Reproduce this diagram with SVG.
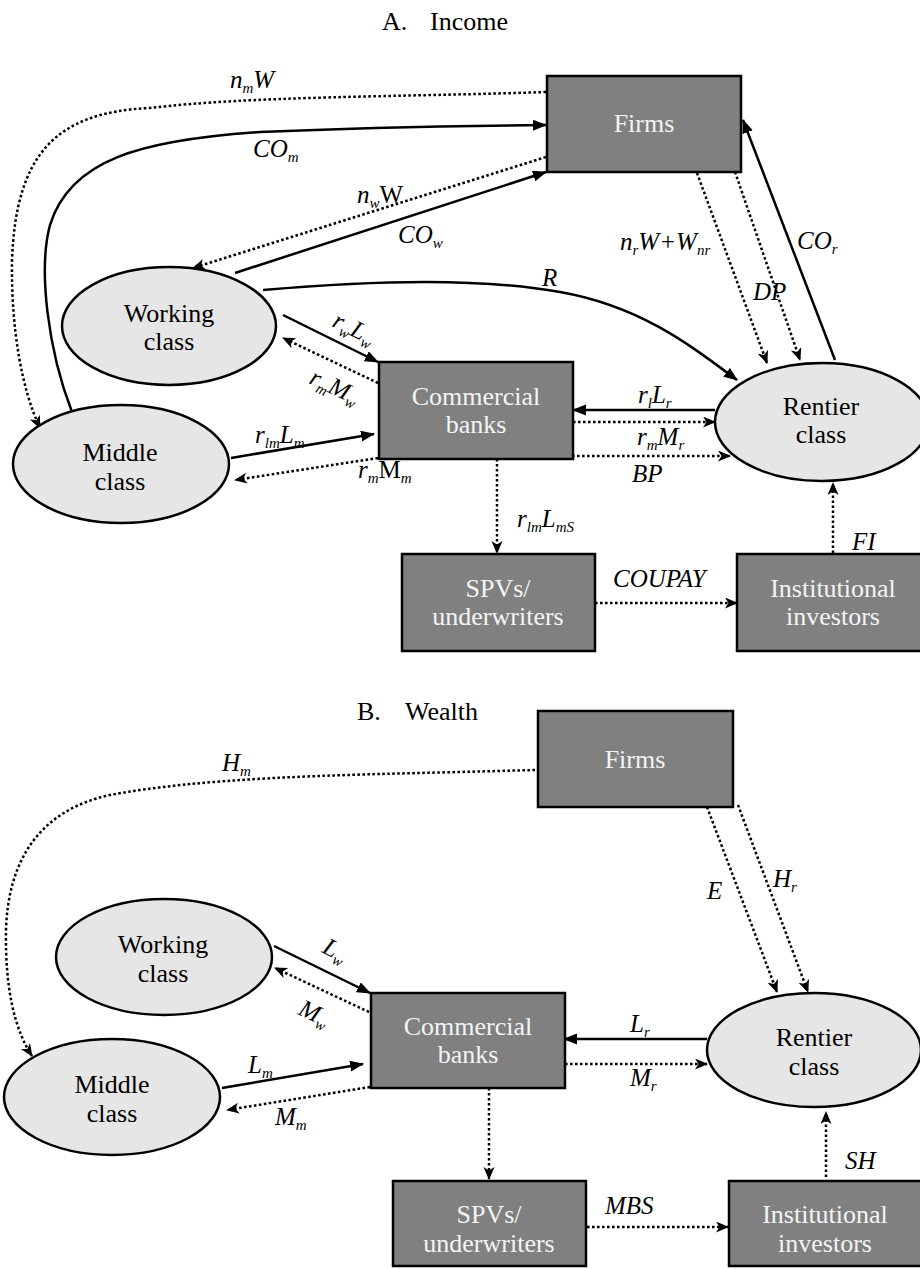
<svg xmlns="http://www.w3.org/2000/svg" width="920" height="1269" viewBox="0 0 920 1269">
<defs>
<style>
.box{fill:#808080;stroke:#000;stroke-width:2.5}
.ell{fill:#e6e6e6;stroke:#000;stroke-width:2.5}
.bt{font-family:"Liberation Serif","Times New Roman",serif;font-size:26px;fill:#f4f4f4;text-anchor:middle}
.et{font-family:"Liberation Serif","Times New Roman",serif;font-size:26px;fill:#000;text-anchor:middle}
.title{font-family:"Liberation Serif","Times New Roman",serif;font-size:26px;fill:#000}
.lb{font-family:"Liberation Serif","Times New Roman",serif;font-size:25px;font-style:italic;fill:#000}
.s{font-size:15px}
.up{font-style:normal}
.sol{fill:none;stroke:#000;stroke-width:2.5;marker-end:url(#tri)}
.dot{fill:none;stroke:#000;stroke-width:2.5;stroke-dasharray:2.6 2.4;marker-end:url(#stl)}
</style>
<marker id="tri" markerUnits="userSpaceOnUse" markerWidth="16" markerHeight="12" refX="13" refY="5.5" orient="auto">
<path d="M0,0 L14,5.5 L0,11 z" fill="#000"/>
</marker>
<marker id="stl" markerUnits="userSpaceOnUse" markerWidth="16" markerHeight="12" refX="12" refY="5.5" orient="auto">
<path d="M0,0 L13,5.5 L0,11 L3.5,5.5 z" fill="#000"/>
</marker>
</defs>
<rect width="920" height="1269" fill="#fff"/>

<text class="title" x="382" y="30">A.<tspan x="430">Income</tspan></text>
<text class="title" x="357" y="720">B.<tspan x="405">Wealth</tspan></text>

<g id="connectors">
<!-- Part A -->
<path class="dot" d="M546,92 C 400,97 250,96 150,108 C 55,112 16,155 12,260 C 11,330 22,390 40,428"/>
<path class="sol" d="M72,412 C 48,350 38,270 50,225 C 70,160 140,140 260,132 C 350,128 450,126 546,125"/>
<path class="dot" d="M546,157 L193,268"/>
<path class="sol" d="M235,273 L546,172"/>
<path class="sol" d="M263,290 C 380,280 480,278 560,292 C 640,306 690,345 737,380"/>
<path class="sol" d="M283,315 L378,362"/>
<path class="dot" d="M378,383 L283,338"/>
<path class="sol" d="M231,458 L374,434"/>
<path class="dot" d="M378,458 L235,480"/>
<path class="sol" d="M715,410 L573,410"/>
<path class="dot" d="M573,422 L715,422"/>
<path class="dot" d="M567,456 L730,456"/>
<path class="dot" d="M697,173 L767,363"/>
<path class="dot" d="M735,172 L800,360"/>
<path class="sol" d="M835,360 L743,120"/>
<path class="dot" d="M497,459 L497,553"/>
<path class="dot" d="M595,603 L737,603"/>
<path class="dot" d="M833,553 L833,483"/>
<!-- Part B -->
<path class="dot" d="M535,770 L460,772 C 330,775 200,778 110,795 C 40,810 8,860 6,930 C 5,990 15,1030 32,1056"/>
<path class="dot" d="M707,807 L777,992"/>
<path class="dot" d="M738,805 L808,992"/>
<path class="sol" d="M274,946 L370,993"/>
<path class="dot" d="M369,1012 L275,968"/>
<path class="sol" d="M222,1088 L363,1064"/>
<path class="dot" d="M370,1087 L227,1110"/>
<path class="sol" d="M707,1039 L564,1039"/>
<path class="dot" d="M565,1064 L707,1064"/>
<path class="dot" d="M489,1088 L489,1179"/>
<path class="dot" d="M587,1227 L728,1227"/>
<path class="dot" d="M826,1177 L826,1112"/>
</g>

<g id="labels">
<text class="lb" x="230" y="88">n<tspan class="s" dy="5">m</tspan><tspan dy="-5">W</tspan></text>
<text class="lb" x="253" y="157">CO<tspan class="s" dy="5">m</tspan></text>
<text class="lb" x="357" y="203">n<tspan class="s" dy="5">w</tspan><tspan class="up" dy="-5">W</tspan></text>
<text class="lb" x="398" y="243">CO<tspan class="s" dy="5">w</tspan></text>
<text class="lb" x="620" y="250">n<tspan class="s" dy="5">r</tspan><tspan dy="-5">W+W</tspan><tspan class="s" dy="5">nr</tspan></text>
<text class="lb" x="753" y="300">DP</text>
<text class="lb" x="797" y="249">CO<tspan class="s" dy="5">r</tspan></text>
<text class="lb" x="542" y="286">R</text>
<text class="lb" transform="translate(331,326) rotate(26)">r<tspan class="s" dy="5">w</tspan><tspan dy="-5">L</tspan><tspan class="s" dy="5">w</tspan></text>
<text class="lb" transform="translate(308,383) rotate(25)">r<tspan class="s" dy="5">m</tspan><tspan dy="-5">M</tspan><tspan class="s" dy="5">w</tspan></text>
<text class="lb" x="255" y="443">r<tspan class="s" dy="5">lm</tspan><tspan dy="-5">L</tspan><tspan class="s" dy="5">m</tspan></text>
<text class="lb" x="358" y="478">r<tspan class="s" dy="5">m</tspan><tspan class="up" dy="-5">M</tspan><tspan class="s" dy="5">m</tspan></text>
<text class="lb" x="638" y="403">r<tspan class="s" dy="5">l</tspan><tspan dy="-5">L</tspan><tspan class="s" dy="5">r</tspan></text>
<text class="lb" x="637" y="445">r<tspan class="s" dy="5">m</tspan><tspan dy="-5">M</tspan><tspan class="s" dy="5">r</tspan></text>
<text class="lb" x="632" y="482">BP</text>
<text class="lb" x="517" y="527">r<tspan class="s" dy="5">lm</tspan><tspan dy="-5">L</tspan><tspan class="s" dy="5">mS</tspan></text>
<text class="lb" x="613" y="587">COUPAY</text>
<text class="lb" x="852" y="550">FI</text>
<text class="lb" x="222" y="771">H<tspan class="s" dy="5">m</tspan></text>
<text class="lb" x="707" y="899">E</text>
<text class="lb" x="773" y="887">H<tspan class="s" dy="5">r</tspan></text>
<text class="lb" transform="translate(321,952) rotate(27)">L<tspan class="s" dy="5">w</tspan></text>
<text class="lb" transform="translate(297,1014) rotate(25)">M<tspan class="s" dy="5">w</tspan></text>
<text class="lb" x="248" y="1073">L<tspan class="s" dy="5">m</tspan></text>
<text class="lb" x="275" y="1125">M<tspan class="s" dy="5">m</tspan></text>
<text class="lb" x="630" y="1032">L<tspan class="s" dy="5">r</tspan></text>
<text class="lb" x="630" y="1086">M<tspan class="s" dy="5">r</tspan></text>
<text class="lb" x="605" y="1214">MBS</text>
<text class="lb" x="845" y="1169">SH</text>
</g>

<g id="firmsA"><rect class="box" x="547" y="76" width="194" height="96"/><text class="bt" x="644" y="132">Firms</text></g>
<g id="workingA"><ellipse class="ell" cx="169" cy="326" rx="107" ry="59"/><text class="et" x="169" y="322">Working</text><text class="et" x="169" y="350">class</text></g>
<g id="middleA"><ellipse class="ell" cx="121" cy="464" rx="108" ry="59"/><text class="et" x="120" y="461">Middle</text><text class="et" x="120" y="490">class</text></g>
<g id="banksA"><rect class="box" x="379" y="362" width="194" height="97"/><text class="bt" x="476" y="405">Commercial</text><text class="bt" x="476" y="433">banks</text></g>
<g id="rentierA"><ellipse class="ell" cx="822" cy="422" rx="107" ry="59"/><text class="et" x="821" y="415">Rentier</text><text class="et" x="821" y="443">class</text></g>
<g id="spvA"><rect class="box" x="402" y="554" width="193" height="97"/><text class="bt" x="498" y="597">SPVs/</text><text class="bt" x="498" y="625">underwriters</text></g>
<g id="instA"><rect class="box" x="737" y="554" width="193" height="97"/><text class="bt" x="833" y="597">Institutional</text><text class="bt" x="833" y="625">investors</text></g>

<g id="firmsB"><rect class="box" x="538" y="711" width="195" height="96"/><text class="bt" x="635" y="768">Firms</text></g>
<g id="workingB"><ellipse class="ell" cx="164" cy="957" rx="108" ry="58"/><text class="et" x="163" y="953">Working</text><text class="et" x="163" y="982">class</text></g>
<g id="middleB"><ellipse class="ell" cx="112" cy="1097" rx="108" ry="58"/><text class="et" x="112" y="1093">Middle</text><text class="et" x="112" y="1122">class</text></g>
<g id="banksB"><rect class="box" x="371" y="993" width="194" height="95"/><text class="bt" x="468" y="1035">Commercial</text><text class="bt" x="468" y="1063">banks</text></g>
<g id="rentierB"><ellipse class="ell" cx="814" cy="1050" rx="107" ry="57"/><text class="et" x="814" y="1046">Rentier</text><text class="et" x="814" y="1075">class</text></g>
<g id="spvB"><rect class="box" x="393" y="1181" width="193" height="85"/><text class="bt" x="489" y="1223">SPVs/</text><text class="bt" x="489" y="1252">underwriters</text></g>
<g id="instB"><rect class="box" x="729" y="1181" width="193" height="85"/><text class="bt" x="825" y="1223">Institutional</text><text class="bt" x="825" y="1252">investors</text></g>
</svg>
